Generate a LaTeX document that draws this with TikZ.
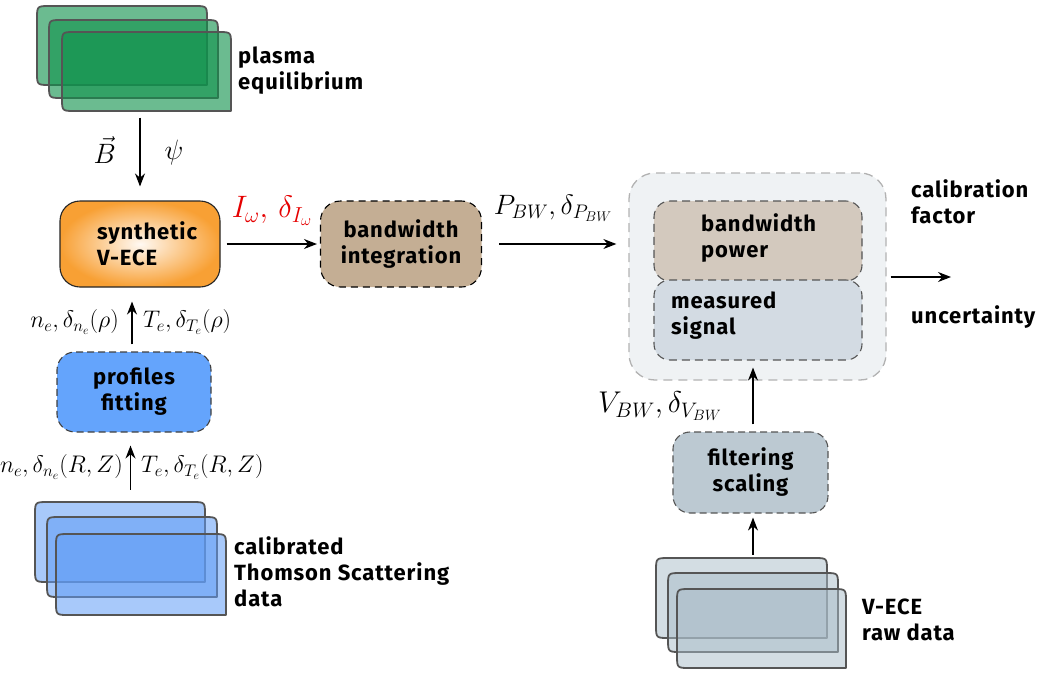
\documentclass[tikz,border=0pt]{standalone}
\usepackage{fix-cm}
\usepackage[no-math]{fontspec}
\setmainfont{Fira Sans}[LetterSpace=4]
\usetikzlibrary{arrows.meta}

\definecolor{eqgreen}{RGB}{16,146,76}
\definecolor{tsblue}{RGB}{96,156,245}
\definecolor{rawgray}{RGB}{168,187,199}
\definecolor{vorange}{RGB}{248,160,52}
\definecolor{bwtan}{RGB}{196,174,148}
\definecolor{boxfill}{RGB}{239,242,244}
\definecolor{powfill}{RGB}{211,201,190}
\definecolor{sigfill}{RGB}{211,219,227}
\definecolor{filtfill}{RGB}{188,201,210}
\definecolor{proffill}{RGB}{100,164,252}
\definecolor{edgegray}{RGB}{85,85,85}

% a data sheet: rounded except for the lower right corner
% #1 style, #2 left, #3 top, #4 right, #5 bottom
\newcommand{\docsheet}[5]{%
  \path[#1] (#4,#5) -- ({#2+13},#5) .. controls (#2,#5) .. (#2,{#5-13})
    -- (#2,{#3+13}) .. controls (#2,#3) .. ({#2+13},#3)
    -- ({#4-13},#3) .. controls (#4,#3) .. (#4,{#3+13}) -- cycle;}

\begin{document}
\begin{tikzpicture}[x=1pt,y=-1pt,
  txt/.style={font=\fontsize{22}{26}\selectfont\bfseries, align=left, inner sep=0pt},
  mth/.style={font=\fontsize{24}{28}\selectfont, inner sep=0pt},
  bigmth/.style={font=\fontsize{28}{32}\selectfont, inner sep=0pt},
  procbox/.style={rounded corners=20pt, inner sep=0pt, line width=1.1pt},
  arr/.style={-{Stealth[length=13pt,width=10pt]}, line width=1.2pt},
  sheet/.style={draw=edgegray, line width=1.8pt, fill opacity=0.62, line join=round}
]
\useasboundingbox (0,0) rectangle (1040,675);

% ---------- plasma equilibrium stack ----------
\docsheet{sheet, fill=eqgreen}{37}{6}{207}{85}
\docsheet{sheet, fill=eqgreen}{49}{20}{218}{98}
\docsheet{sheet, fill=eqgreen}{62}{32}{231}{111}
\node[inner sep=0, minimum width=194pt, minimum height=106pt] (eq) at (134,58.5) {};
\node[txt, anchor=west] (eqlbl) at (238,71) {plasma\\equilibrium};

% ---------- synthetic V-ECE ----------
\node[procbox, draw=black!85, inner color=orange!5, outer color=vorange,
      minimum width=160pt, minimum height=86pt] (synth) at (140,244) {};
\node[txt, anchor=west] (synthlbl) at (97,244) {synthetic\\V-ECE};

% ---------- bandwidth integration ----------
\node[procbox, draw=black, dash pattern=on 7pt off 5pt, fill=bwtan,
      minimum width=161pt, minimum height=86pt, txt, align=center] (bwint) at (401,244)
      {bandwidth\\integration};

% ---------- calibration container ----------
\node[rounded corners=26pt, draw=black!30, fill=boxfill, line width=1.3pt,
      dash pattern=on 9pt off 6pt, minimum width=257pt, minimum height=207pt] (calib) at (757.5,276.5) {};
\node[rounded corners=16pt, draw=edgegray, fill=powfill, line width=1.1pt,
      dash pattern=on 8pt off 5pt, minimum width=208pt, minimum height=80pt] (power) at (758,241) {};
\node[rounded corners=16pt, draw=edgegray, fill=sigfill, line width=1.1pt,
      dash pattern=on 8pt off 5pt, minimum width=208pt, minimum height=80pt] (meas) at (758,320) {};
\node[txt, anchor=west] (powlbl) at (701,238) {bandwidth\\power};
\node[txt, anchor=west] (measlbl) at (671,316) {measured\\signal};

\node[txt, anchor=west] (cflbl) at (911,202) {calibration\\factor};
\node[txt, anchor=west] (unclbl) at (911,317) {uncertainty};
\coordinate (out) at (951,277);

% ---------- filtering / scaling ----------
\node[procbox, rounded corners=17pt, draw=edgegray, fill=filtfill,
      dash pattern=on 7pt off 4pt, minimum width=155pt, minimum height=81pt,
      txt, align=center] (filt) at (750.5,472.5) {filtering\\scaling};

% ---------- V-ECE raw data stack ----------
\docsheet{sheet, fill=rawgray, fill opacity=0.5}{656}{558}{827}{638}
\docsheet{sheet, fill=rawgray, fill opacity=0.5}{668}{573}{838}{652}
\docsheet{sheet, fill=rawgray, fill opacity=0.5}{677}{589}{846}{668}
\node[inner sep=0, minimum width=190pt, minimum height=110pt] (raw) at (753,613) {};
\node[txt, anchor=west] (rawlbl) at (862,620) {V-ECE\\raw data};

% ---------- profiles fitting ----------
\node[procbox, rounded corners=18pt, draw=black!75, fill=proffill,
      dash pattern=on 7pt off 4pt, minimum width=154pt, minimum height=80pt,
      txt, align=center] (prof) at (134,392) {profiles\\fitting};

% ---------- Thomson scattering stack ----------
\docsheet{sheet, fill=tsblue, fill opacity=0.55}{35}{502}{205}{582}
\docsheet{sheet, fill=tsblue, fill opacity=0.55}{47}{517}{217}{597}
\docsheet{sheet, fill=tsblue, fill opacity=0.55}{56}{534}{226}{615}
\node[inner sep=0, minimum width=191pt, minimum height=113pt] (ts) at (130.5,558.5) {};
\node[txt, anchor=west] (tslbl) at (234,572) {calibrated\\Thomson Scattering\\data};

% ---------- connectors ----------
\draw[arr, shorten <=6pt, shorten >=14pt] (eq.south -| synth.north) -- (synth.north);
\node[bigmth, anchor=east] (blbl) at (116,150) {$\vec{B}$};
\node[bigmth] (psilbl) at (174,152) {$\psi$};

\draw[arr, shorten <=6pt, shorten >=3pt] (synth.east) -- (bwint.west);
\node[font=\fontsize{31}{34}\selectfont, inner sep=0pt, text=red!90!black] (ilbl) at (272,211) {$I_\omega,\,\delta_{I_\omega}$};

\draw[arr, shorten <=17pt, shorten >=12pt] (bwint.east) -- (calib.west |- bwint.east);
\node[bigmth] (plbl) at (553,208) {$P_{BW},\delta_{P_{BW}}$};

\draw[arr, shorten <=4pt] (calib.east |- out) -- (out);

\draw[arr, shorten <=7pt, shorten >=7pt] ([xshift=2.5pt]filt.north) -- ([xshift=2.5pt]filt.north |- meas.south);
\node[font=\fontsize{30}{34}\selectfont, inner sep=0pt] (vlbl) at (660,406) {$V_{BW},\delta_{V_{BW}}$};

\draw[arr, shorten <=3pt, shorten >=4pt] (raw.north) -- (raw.north |- filt.south);

\draw[arr, shorten <=7pt, shorten >=14pt] ([xshift=-2pt]prof.north) -- ([xshift=-2pt]prof.north |- synth.south);
\node[mth, anchor=east] (nrho) at (119,322) {$n_e,\delta_{n_e}(\rho)$};
\node[mth, anchor=west] (trho) at (143,322) {$T_e,\delta_{T_e}(\rho)$};

\draw[arr, shorten <=12pt, shorten >=13pt] (ts.north) -- (ts.north |- prof.south);
\node[mth, anchor=east] (nrz) at (123,467) {$n_e,\delta_{n_e}(R,Z)$};
\node[mth, anchor=west] (trz) at (141,467) {$T_e,\delta_{T_e}(R,Z)$};
\end{tikzpicture}
\end{document}
